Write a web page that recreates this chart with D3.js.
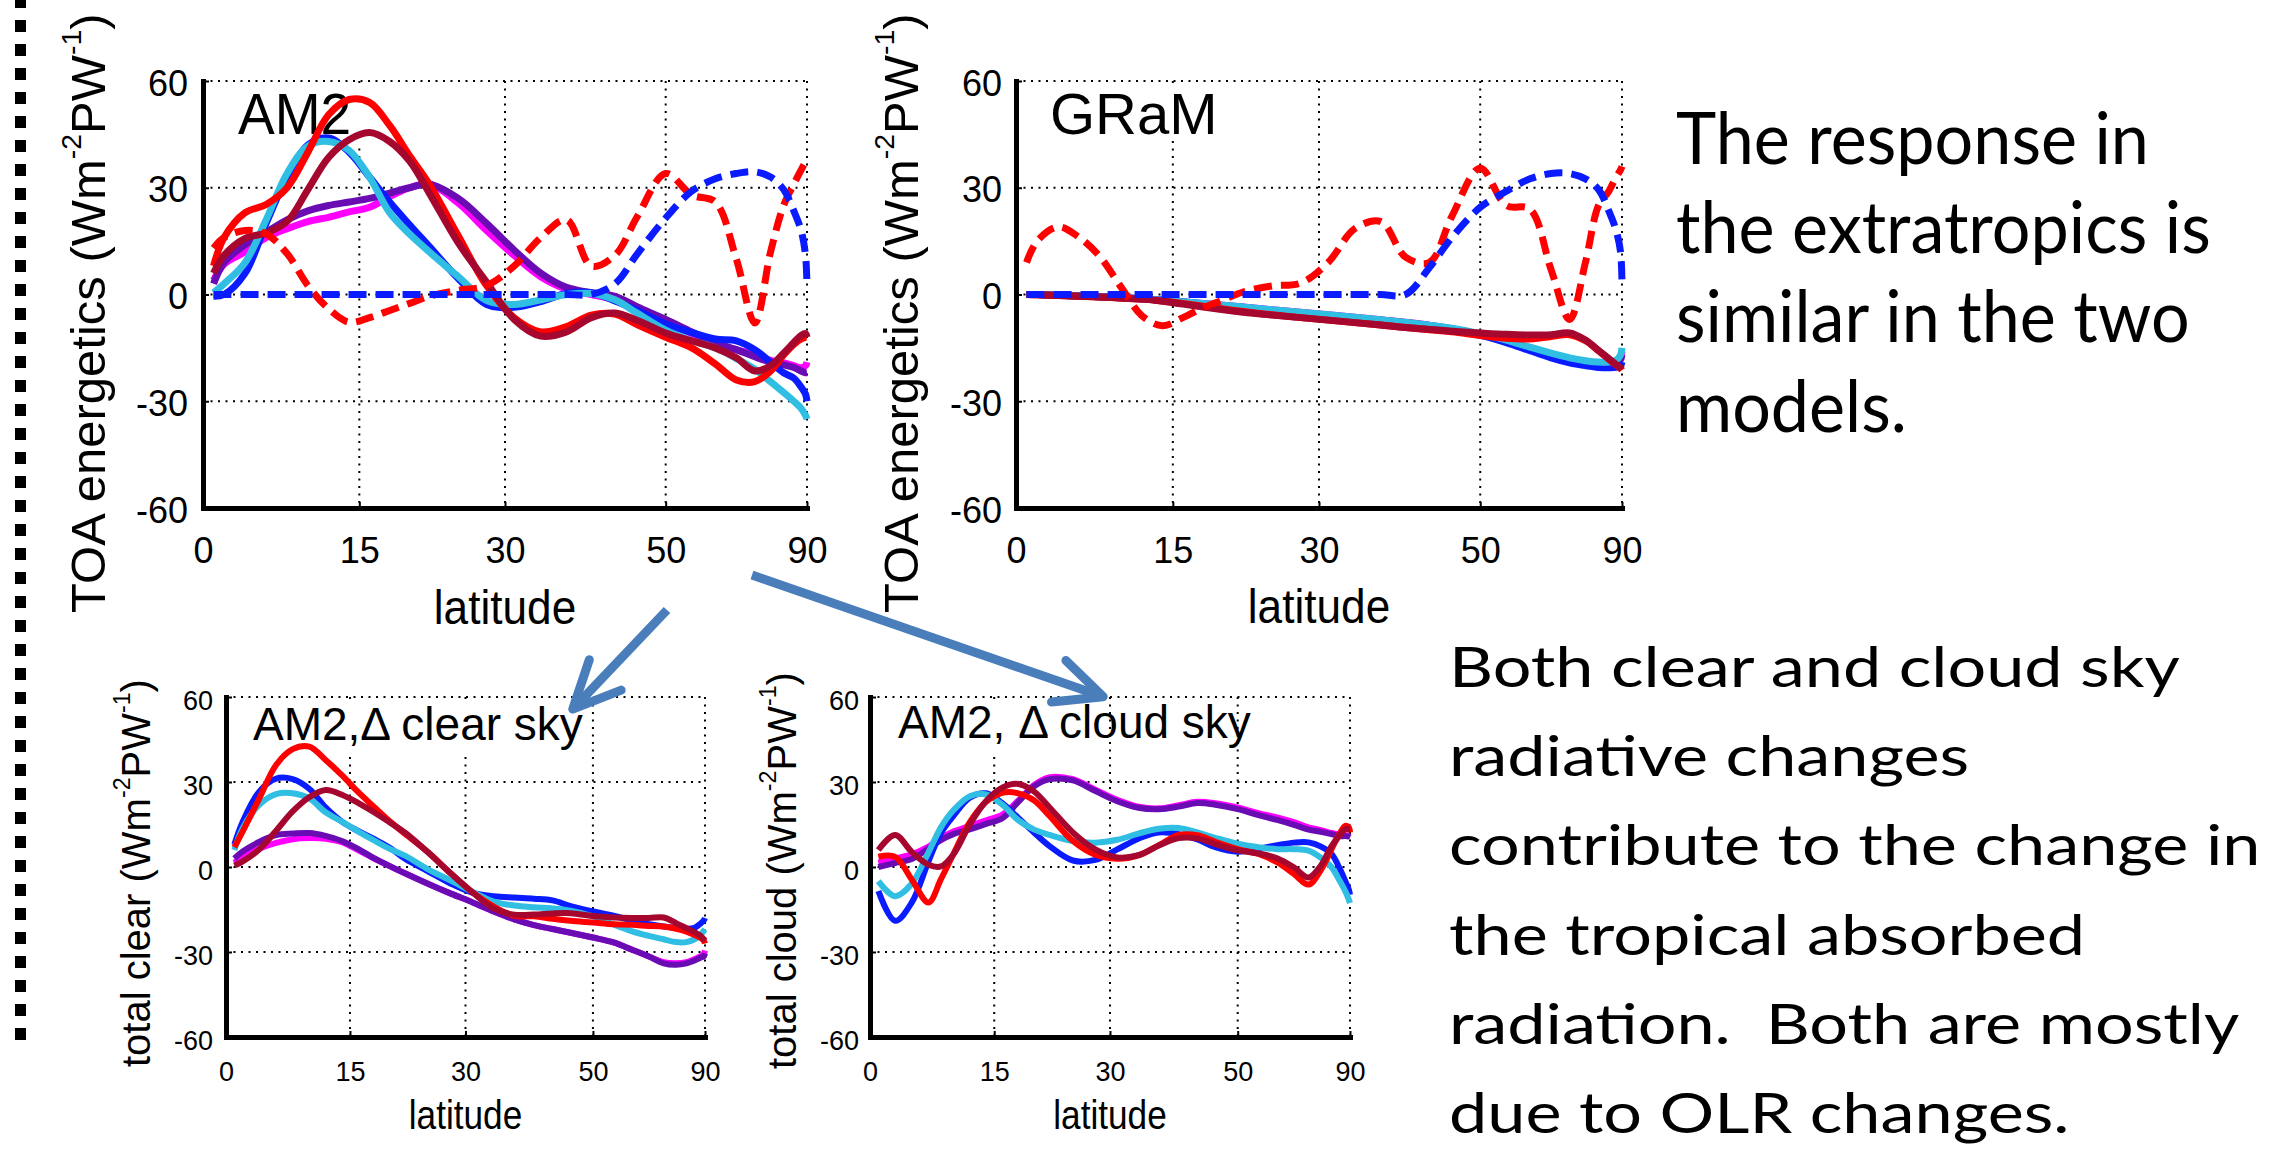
<!DOCTYPE html>
<html>
  <head>
    <meta charset="utf-8">
    <title>TOA energetics response</title>
    <script src="https://d3js.org/d3.v7.min.js"></script>
    <style>
      body {
        margin: 0;
        background-color: white;
      }
      svg {
        display: block;
      }
      .mat text {
        font-family: "Liberation Sans", Arial, sans-serif;
        fill: black;
      }
      .note {
        font-family: Lato, "Open Sans", sans-serif;
        fill: black;
        white-space: pre;
      }
    </style>
  </head>
  <body>
    <script>
      // latitude grids (degrees) the curves were read at
      const lat = [1,2,4,6,8,10,12,14,16,18,20,22,25,28,31,34,37,40,43,46,50,54,58,62,66,70,74,78,82,86,90];
      const latCloud = [1,3,5,7,8.5,10,12,14,16,18,20,22,25,28,31,34,37,40,43,46,50,54,58,62,66,70,74,78,82,86,90];
      const xTicks = [0, 15, 30, 50, 90];
      const yTicks = [-60, -30, 0, 30, 60];

      // AM2, TOA energetics
      const am2Magenta = [4,8.5,12,16,18.5,20.5,21.7,23.2,24.5,27.5,30,31,25.7,18,11,5,1.5,0,-1.5,-4,-7.5,-11,-14,-15.5,-17,-18.5,-19.2,-20,-20.6,-20,-19];
      const am2Purple = [3,9,14,17.5,21,23.5,25,26,27,28.5,30,31,27,20,12.5,6,2,0.5,-0.5,-3.5,-7,-10.5,-13.5,-15.5,-17.5,-19,-19.8,-20.5,-21.5,-22,-22];
      const am2Blue = [-0.5,0,6,20,33,42,44,40,33,26,19.6,13.5,4.5,-2.8,-3.6,-2,0.3,0.5,-1.8,-4.5,-8.3,-10.7,-12.5,-13,-15.5,-19,-22,-23.5,-26,-28,-30];
      const am2Cyan = [0.5,3,9,21,34,41.7,43,40.5,33,23,17,12,5,-1.7,-2.8,-1.5,0,0.3,-1.5,-5.3,-10,-13,-15,-18,-21,-24.5,-27.5,-30,-32,-34,-35];
      const am2Red = [8,16,23,25.3,30,40,50.5,54.8,54,47.5,39,31,16.5,2.5,-6.5,-10.5,-9,-5.8,-5.5,-8.5,-12,-15,-19.5,-24,-24.5,-21.5,-17,-14,-12.5,-12,-12];
      const am2DarkRed = [6,11,15.8,17.3,20.5,29.5,38.5,43.5,45.5,43,37.5,28.5,14.5,3.5,-7,-11.7,-10.5,-6.5,-5.2,-7.3,-10.8,-13,-15,-17.8,-21.5,-20,-16.5,-13.5,-11.5,-11,-12];
      const am2RedDash = [13,16,18,17,11.5,2.5,-4,-7.8,-6.5,-4.5,-2.5,-0.5,1.2,2.5,8,16,21,8,11,22,34,28,26,10,-8,12,25,31,35,37,36];
      const am2BlueDash = [0,0,0,0,0,0,0,0,0,0,0,0,0,0,0,0,0,0,3,11.5,21.5,29,32.5,34,34.5,33,29.5,23.5,18,11,2];

      // GRaM, TOA energetics
      const gramMagenta = [0,0,-0.2,-0.4,-0.6,-0.9,-1.2,-1.6,-2,-2.5,-3,-3.5,-4.3,-5,-5.7,-6.4,-7.1,-7.8,-8.6,-9.6,-11.2,-13,-15,-16.8,-18,-18.8,-19.2,-19.2,-18.7,-17.5,-16];
      const gramPurple = [0,0,-0.2,-0.4,-0.6,-0.9,-1.2,-1.6,-2.1,-2.6,-3.1,-3.6,-4.4,-5.1,-5.8,-6.5,-7.2,-7.9,-8.7,-9.7,-11.3,-13.2,-15.2,-17,-18.3,-19.1,-19.5,-19.6,-19.2,-18.3,-17];
      const gramBlue = [0,0,-0.2,-0.4,-0.6,-0.9,-1.2,-1.6,-2.1,-2.7,-3.3,-3.8,-4.7,-5.5,-6.3,-7,-7.7,-8.4,-9.2,-10.1,-11.5,-13.5,-15.8,-17.8,-19.2,-20,-20.5,-20.6,-20.5,-20,-19];
      const gramCyan = [0,0,-0.2,-0.4,-0.6,-0.9,-1.2,-1.6,-2,-2.5,-3,-3.5,-4.3,-5,-5.7,-6.4,-7.1,-7.8,-8.6,-9.5,-11,-12.8,-14.8,-16.5,-17.8,-18.6,-19,-19,-18.5,-17,-15];
      const gramRed = [0,-0.1,-0.3,-0.5,-0.7,-1,-1.3,-1.8,-2.5,-3.3,-4.1,-4.8,-5.7,-6.5,-7.2,-7.9,-8.6,-9.3,-9.9,-10.5,-11.5,-12.3,-12.5,-11.8,-11.3,-13,-15.8,-18.2,-19.8,-20.8,-21.3];
      const gramDarkRed = [0,-0.1,-0.3,-0.5,-0.7,-1,-1.3,-1.9,-2.7,-3.5,-4.3,-5,-5.8,-6.5,-7.2,-7.9,-8.6,-9.3,-9.8,-10.3,-10.8,-11.2,-11.4,-11.3,-10.8,-12.8,-15.7,-18,-19.7,-20.6,-21];
      const gramRedDash = [9,15,19,16,10.5,2,-6,-8.8,-6.5,-3.7,-1.5,0.7,2.4,3.2,9,18.5,20.5,10.5,9,22,35.5,25,24,7,-7,9,25,29,33,35,36];
      const gramBlueDash = [0,0,0,0,0,0,0,0,0,0,0,0,0,0,0,0,0,0,7.5,16,24.5,29,32.5,34,34,32.5,29.5,23.5,18,12,3];

      // AM2, change in clear sky
      const clearMagenta = [1.5,3.5,6.5,8.5,9.8,10.2,10,8.8,6,3,0.3,-2.3,-6,-9.4,-12.5,-15.7,-18.5,-20.5,-21.9,-23.2,-24.9,-26.6,-29.2,-31.6,-33.6,-34,-33.6,-32.5,-31.5,-30.5,-29.5];
      const clearPurple = [3,5.5,8.9,11.3,11.8,12,11,9.2,6.4,3.1,0.3,-2.3,-6,-9.4,-12.5,-15.7,-18.5,-20.5,-21.9,-23.2,-24.9,-26.6,-29.2,-31.6,-34,-34.5,-34,-33,-32,-31.5,-30.5];
      const clearBlue = [8,16,26.7,31.2,31,27.6,21,16,12.7,9.9,6.8,2.8,-1.6,-5.9,-9.1,-10.3,-10.8,-11.2,-11.8,-13.8,-15.7,-17.2,-18.9,-20.2,-21,-21.5,-21.8,-21.5,-20,-18.8,-18];
      const clearCyan = [6,13.7,22,25.7,26,24.2,19.3,16,12.6,9.4,6.4,3.9,-0.9,-4.8,-8.8,-12.2,-13.6,-14.2,-14.6,-15.4,-17.4,-20.3,-22.7,-24.3,-25.5,-26.5,-26.5,-25.5,-24,-22.5,-22];
      const clearRed = [7,12.6,24.3,36,41.6,42.5,37.8,32.4,26.5,21.2,16.1,11.6,5.1,-2.3,-9,-14,-17.2,-17.4,-18.3,-19,-19.6,-20.2,-20.4,-20.8,-21,-21.8,-22.8,-24,-25,-26,-27];
      const clearDarkRed = [0.5,2,6.3,12.8,19.6,24.6,27.2,25.5,22.6,19.3,15.7,12,5,-2.3,-9,-14.7,-16.8,-16.8,-16.4,-16.3,-17.3,-17.8,-18,-18,-17.8,-19.8,-21.6,-23,-24.2,-25.5,-26];

      // AM2, change in cloud sky (read on latCloud)
      const cloudMagenta = [1.5,3,4.5,7.2,10.2,12.5,14.5,16.5,18.5,23.5,29,31.7,31,27.3,23.7,21.3,20.7,21.8,23,22.5,21,19,17.5,15.8,14,13,12,11.5,11.2,11,11];
      const cloudPurple = [0,1.4,2.8,6.5,9.5,11.6,13.3,15.2,17.2,23,28.5,31,30.6,26.8,23.2,20.9,20.4,21.3,22.6,22,20.4,18.3,16.6,14.9,13.2,12.4,11.6,10.9,10.9,10.7,10.5];
      const cloudBlue = [-8.5,-19,-12.5,2,12,18,24.5,26,22.5,17.3,12.1,7.3,2.3,2.5,6.2,10,12.2,11.6,9.7,7,5.4,6.5,7.7,8.6,8.7,7.2,4.7,-0.4,-5,-8,-9.8];
      const cloudCyan = [-5,-10.3,-5.8,5.2,14,20,25,25.6,22,16.5,13.2,11.3,9.2,8.6,9.6,11.8,13.5,13.8,12.2,10.3,8.2,7,6.3,6.3,5.8,3.2,0,-4.8,-8.6,-11.5,-12.7];
      const cloudRed = [3.6,3.6,-4.5,-12.5,-4.3,4.5,15.8,23,26.2,26,23.5,17.9,9.2,4.3,2.9,4.1,7.7,11.3,11.2,8.9,6.3,4.6,1.7,-2.4,-6.2,-1,6.2,11.7,14.5,14,12.2];
      const cloudDarkRed = [6,11.3,5.3,0.8,0.2,4.4,15,23.3,28,29.3,26.6,20.9,12.2,6.2,3.4,4.2,7.6,10.2,10.1,8.1,5.9,4.8,3.1,-0.1,-3.7,0.6,7.3,11.1,13.3,13.3,13.3];

      const noteTop = ['The response in', 'the extratropics is', 'similar in the two', 'models.'];
      const noteBottom = ['Both clear and cloud sky', 'radiative changes', 'contribute to the change in',
                          'the tropical absorbed', 'radiation.  Both are mostly', 'due to OLR changes.'];

      const col = {
        blue: '#0a1cff', cyan: '#30bee2', magenta: '#ff00ff',
        purple: '#6a0cb4', red: '#ff0000', darkred: '#a5072e'
      };

      const sinDeg = d => Math.sin(d * Math.PI / 180);

      const w = 2284;
      const h = 1162;

      const svg = d3.select('body')
                    .append('svg')
                    .attr('width', w)
                    .attr('height', h);

      // dotted slide border on the left
      svg.append('line')
         .attr('x1', 20.5).attr('x2', 20.5)
         .attr('y1', -4).attr('y2', 1040)
         .attr('stroke', 'black')
         .attr('stroke-width', 11)
         .attr('stroke-dasharray', '12,12');

      const panels = [
        {
          x0: 203, x1: 807, y0: 81, y1: 508, lats: lat, lineW: 7,
          series: [
            {v: am2Magenta, c: col.magenta}, {v: am2Purple, c: col.purple},
            {v: am2Blue, c: col.blue}, {v: am2Cyan, c: col.cyan},
            {v: am2Red, c: col.red}, {v: am2DarkRed, c: col.darkred},
            {v: am2RedDash, c: col.red, dash: true}, {v: am2BlueDash, c: col.blue, dash: true}
          ],
          title: 'AM2', tx: 238, ty: 134, tsize: 58, tsx: 0.95, box: [231, 84, 134, 62],
          ylab: 'TOA energetics ', lx: 105, ly: 613, lsize: 49,
          tick: 36, xPad: 29, yPad: 15, yDy: 14, latSize: 48, latSx: 0.92, latY: 624
        },
        {
          x0: 1016, x1: 1622, y0: 81, y1: 508, lats: lat, lineW: 7,
          series: [
            {v: gramMagenta, c: col.magenta}, {v: gramPurple, c: col.purple},
            {v: gramBlue, c: col.blue}, {v: gramCyan, c: col.cyan},
            {v: gramRed, c: col.red}, {v: gramDarkRed, c: col.darkred},
            {v: gramRedDash, c: col.red, dash: true}, {v: gramBlueDash, c: col.blue, dash: true}
          ],
          title: 'GRaM', tx: 1050, ty: 134, tsize: 58, tsx: 1, box: [1043, 84, 183, 56],
          ylab: 'TOA energetics ', lx: 918, ly: 613, lsize: 49,
          tick: 36, xPad: 29, yPad: 14, yDy: 14, latSize: 48, latSx: 0.92, latY: 623
        },
        {
          x0: 226, x1: 705, y0: 697, y1: 1037, lats: lat, lineW: 6,
          series: [
            {v: clearMagenta, c: col.magenta}, {v: clearPurple, c: col.purple},
            {v: clearBlue, c: col.blue}, {v: clearCyan, c: col.cyan},
            {v: clearRed, c: col.red}, {v: clearDarkRed, c: col.darkred}
          ],
          title: 'AM2,\u0394 clear sky', tx: 253, ty: 740, tsize: 46, tsx: 1, box: [247, 700, 338, 54],
          ylab: 'total clear ', lx: 150, ly: 1067, lsize: 40,
          tick: 27, xPad: 25, yPad: 13, yDy: 12, latSize: 40, latSx: 0.88, latY: 1129
        },
        {
          x0: 870, x1: 1350, y0: 697, y1: 1037, lats: latCloud, lineW: 6,
          series: [
            {v: cloudMagenta, c: col.magenta}, {v: cloudPurple, c: col.purple},
            {v: cloudBlue, c: col.blue}, {v: cloudCyan, c: col.cyan},
            {v: cloudRed, c: col.red}, {v: cloudDarkRed, c: col.darkred}
          ],
          title: 'AM2, \u0394 cloud sky', tx: 898, ty: 738, tsize: 46, tsx: 1, box: [893, 700, 107, 53],
          ylab: 'total cloud ', lx: 796, ly: 1069, lsize: 40,
          tick: 27, xPad: 25, yPad: 11, yDy: 12, latSize: 40, latSx: 0.88, latY: 1129
        }
      ];

      panels.forEach(p => {
        const x = d3.scaleLinear().domain([0, 1]).range([p.x0, p.x1]);
        const y = d3.scaleLinear().domain([-60, 60]).range([p.y1, p.y0]);
        const g = svg.append('g').attr('class', 'mat');

        // dotted grid
        g.selectAll('line.hgrid')
         .data(yTicks.filter(t => t > -60))
         .join('line')
         .attr('class', 'hgrid')
         .attr('x1', p.x0).attr('x2', p.x1)
         .attr('y1', d => y(d)).attr('y2', d => y(d));
        g.selectAll('line.vgrid')
         .data(xTicks.filter(t => t > 0))
         .join('line')
         .attr('class', 'vgrid')
         .attr('x1', d => x(sinDeg(d))).attr('x2', d => x(sinDeg(d)))
         .attr('y1', p.y0).attr('y2', p.y1);
        g.selectAll('line.hgrid, line.vgrid')
         .attr('stroke', 'black')
         .attr('stroke-width', 2)
         .attr('stroke-dasharray', '2,5.5');

        // panel title on a white patch
        g.append('rect')
         .attr('x', p.box[0]).attr('y', p.box[1])
         .attr('width', p.box[2]).attr('height', p.box[3])
         .attr('fill', 'white');
        g.append('text')
         .attr('transform', `translate(${p.tx},${p.ty}) scale(${p.tsx},1)`)
         .attr('font-size', p.tsize)
         .text(p.title);

        // curves
        const line = d3.line()
                       .x(d => x(sinDeg(d[0])))
                       .y(d => y(d[1]))
                       .curve(d3.curveCatmullRom.alpha(0.5));
        g.selectAll('path.series')
         .data(p.series)
         .join('path')
         .attr('class', 'series')
         .attr('d', s => line(p.lats.map((l, i) => [l, s.v[i]])))
         .attr('fill', 'none')
         .attr('stroke', s => s.c)
         .attr('stroke-width', p.lineW)
         .attr('stroke-linejoin', 'round')
         .attr('stroke-dasharray', s => s.dash ? '18,9' : null);

        // axes
        const xAxis = d3.axisBottom(x)
                        .tickValues(xTicks.map(sinDeg))
                        .tickFormat(d => String(Math.round(Math.asin(d) * 180 / Math.PI)))
                        .tickSizeInner(-6)
                        .tickSizeOuter(0)
                        .tickPadding(p.xPad);
        const yAxis = d3.axisLeft(y)
                        .tickValues(yTicks)
                        .tickFormat(d => String(d))
                        .tickSizeInner(-6)
                        .tickSizeOuter(0)
                        .tickPadding(p.yPad);

        const gx = g.append('g')
                    .attr('transform', `translate(0,${p.y1})`)
                    .call(xAxis);
        const gy = g.append('g')
                    .attr('transform', `translate(${p.x0},0)`)
                    .call(yAxis);
        [gx, gy].forEach(a => {
          a.attr('font-size', p.tick).attr('font-family', null);
          a.select('.domain').attr('stroke-width', 5).attr('stroke-linecap', 'square');
          a.selectAll('.tick line').attr('stroke-width', 2);
        });
        gy.selectAll('text').attr('dy', p.yDy);

        // axis titles
        g.append('text')
         .attr('transform', `translate(${(p.x0 + p.x1) / 2},${p.latY}) scale(${p.latSx},1)`)
         .attr('font-size', p.latSize)
         .attr('text-anchor', 'middle')
         .text('latitude');

        const sup = 0.58 * p.lsize;
        const rise = 0.5 * p.lsize;
        const yl = g.append('text')
                    .attr('transform', `translate(${p.lx},${p.ly}) rotate(-90)`)
                    .attr('font-size', p.lsize)
                    .style('white-space', 'pre');
        yl.append('tspan').text(p.ylab + '(Wm');
        yl.append('tspan').attr('dy', -rise).attr('font-size', sup).text('-2');
        yl.append('tspan').attr('dy', rise).text('PW');
        yl.append('tspan').attr('dy', -rise).attr('font-size', sup).text('-1');
        yl.append('tspan').attr('dy', rise).text(')');
      });

      // arrows from the upper AM2 panel to the two lower panels
      const arrows = [
        {from: [667, 610], to: [570, 712]},
        {from: [752, 575], to: [1107, 698]}
      ];
      const arrowColor = '#4a7ebb';
      arrows.forEach(a => {
        const dx = a.to[0] - a.from[0];
        const dy = a.to[1] - a.from[1];
        const len = Math.hypot(dx, dy);
        const ux = dx / len, uy = dy / len;
        const tip = [a.to[0] - 4 * ux, a.to[1] - 4 * uy];
        const back = Math.atan2(-uy, -ux);
        const arm = 52, spread = 25 * Math.PI / 180;
        const p1 = [tip[0] + arm * Math.cos(back + spread), tip[1] + arm * Math.sin(back + spread)];
        const p2 = [tip[0] + arm * Math.cos(back - spread), tip[1] + arm * Math.sin(back - spread)];
        svg.append('line')
           .attr('x1', a.from[0]).attr('y1', a.from[1])
           .attr('x2', tip[0]).attr('y2', tip[1])
           .attr('stroke', arrowColor)
           .attr('stroke-width', 9);
        svg.append('path')
           .attr('d', d3.line()([p1, tip, p2]))
           .attr('fill', 'none')
           .attr('stroke', arrowColor)
           .attr('stroke-width', 9)
           .attr('stroke-linejoin', 'round')
           .attr('stroke-linecap', 'round');
      });

      // slide text, fitted to the measured widths
      function noteBlock(lines, x, y0, step, size, refLine, refWidth) {
        const probe = svg.append('text').attr('class', 'note').attr('font-size', size).text(refLine);
        const sx = refWidth / probe.node().getComputedTextLength();
        probe.remove();
        svg.selectAll(null)
           .data(lines)
           .enter()
           .append('text')
           .attr('class', 'note')
           .attr('font-size', size)
           .attr('transform', (d, i) => `translate(${x},${y0 + i * step}) scale(${sx},1)`)
           .text(d => d);
      }
      noteBlock(noteTop, 1676, 164, 89.2, 70.8, 'The response in', 473);
      noteBlock(noteBottom, 1449, 686.7, 89.3, 55.8, 'contribute to the', 508);
    </script>
  </body>
</html>
